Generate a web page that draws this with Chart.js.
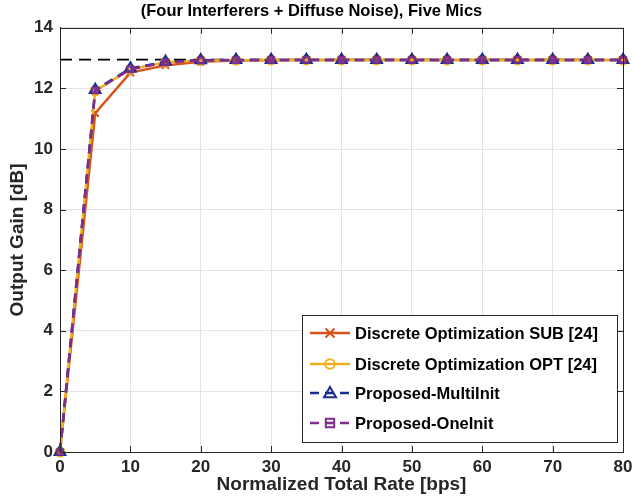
<!DOCTYPE html>
<html>
<head>
<meta charset="utf-8">
<script src="https://cdn.jsdelivr.net/npm/chart.js@4.4.1/dist/chart.umd.min.js"></script>
<style>
  html, body { margin: 0; padding: 0; background: #fff; }
  #wrap { width: 633px; height: 496px; }
</style>
</head>
<body>
<div id="wrap"><canvas id="gain" width="633" height="496"></canvas></div>
<script>
// normalized total rate [bps]
const rates = [0, 5, 10, 15, 20, 25, 30, 35, 40, 45, 50, 55, 60, 65, 70, 75, 80];

// output gain [dB]
const subGain   = [0, 11.18, 12.52, 12.76, 12.88, 12.92, 12.93, 12.94, 12.94, 12.94, 12.94, 12.94, 12.94, 12.94, 12.94, 12.94, 12.94];
const optGain   = [0, 11.92, 12.63, 12.86, 12.92, 12.93, 12.94, 12.94, 12.94, 12.94, 12.94, 12.94, 12.94, 12.94, 12.94, 12.94, 12.94];
const multiGain = [0, 11.95, 12.66, 12.88, 12.93, 12.94, 12.94, 12.94, 12.94, 12.94, 12.94, 12.94, 12.94, 12.94, 12.94, 12.94, 12.94];
const oneGain   = [0, 11.93, 12.63, 12.86, 12.92, 12.93, 12.94, 12.94, 12.94, 12.94, 12.94, 12.94, 12.94, 12.94, 12.94, 12.94, 12.94];
const upperBound = 12.95;

const xTicks = [0, 10, 20, 30, 40, 50, 60, 70, 80];
const yTicks = [0, 2, 4, 6, 8, 10, 12, 14];

const seriesNames = [
  'Discrete Optimization SUB [24]',
  'Discrete Optimization OPT [24]',
  'Proposed-MultiInit',
  'Proposed-OneInit'
];

const FONT = '"Liberation Sans", Arial, Helvetica, sans-serif';
const orange = '#D95319', yellow = '#EDB120', blue = '#1A2E8F', purple = '#7E2F8E';

const pts = (arr) => arr.map((v, i) => ({ x: rates[i], y: v }));

// draw a marker (used by the hand-made legend)
function marker(ctx, style, x, y, r, color) {
  ctx.save();
  ctx.strokeStyle = color;
  ctx.lineWidth = 2;
  ctx.beginPath();
  if (style === 'crossRot') {
    ctx.moveTo(x - r * 0.75, y - r * 0.75); ctx.lineTo(x + r * 0.75, y + r * 0.75);
    ctx.moveTo(x + r * 0.75, y - r * 0.75); ctx.lineTo(x - r * 0.75, y + r * 0.75);
  } else if (style === 'circle') {
    ctx.arc(x, y, r * 0.8, 0, Math.PI * 2);
  } else if (style === 'triangle') {
    ctx.moveTo(x, y - r); ctx.lineTo(x + r, y + r * 0.7); ctx.lineTo(x - r, y + r * 0.7); ctx.closePath();
  } else {
    ctx.rect(x - r * 0.7, y - r * 0.7, r * 1.4, r * 1.4);
  }
  ctx.stroke();
  ctx.restore();
}

const frameAndLegend = {
  id: 'frameAndLegend',
  beforeDatasetsDraw(chart) {
    // inward tick marks on all four sides, matlab style
    const ctx = chart.ctx;
    const a = chart.chartArea;
    const sx = chart.scales.x, sy = chart.scales.y;
    ctx.save();
    ctx.strokeStyle = '#262626';
    ctx.lineWidth = 1;
    ctx.beginPath();
    xTicks.forEach(v => {
      const px = Math.round(sx.getPixelForValue(v)) + 0.5;
      ctx.moveTo(px, a.bottom); ctx.lineTo(px, a.bottom - 6);
      ctx.moveTo(px, a.top); ctx.lineTo(px, a.top + 6);
    });
    yTicks.forEach(v => {
      const py = Math.round(sy.getPixelForValue(v)) + 0.5;
      ctx.moveTo(a.left, py); ctx.lineTo(a.left + 6, py);
      ctx.moveTo(a.right, py); ctx.lineTo(a.right - 6, py);
    });
    ctx.stroke();
    ctx.restore();
  },
  afterDraw(chart) {
    const ctx = chart.ctx;
    const a = chart.chartArea;
    ctx.save();
    // box around the axes
    ctx.strokeStyle = '#262626';
    ctx.lineWidth = 1;
    ctx.strokeRect(Math.round(a.left) + 0.5, Math.round(a.top) + 0.5, Math.round(a.right - a.left), Math.round(a.bottom - a.top));

    // legend
    const lx = 302, ly = 315, lw = 315, lh = 127;
    ctx.fillStyle = '#fff';
    ctx.fillRect(lx, ly, lw, lh);
    ctx.strokeStyle = '#262626';
    ctx.strokeRect(lx + 0.5, ly + 0.5, lw, lh);

    const rows = [333, 364, 393, 423];
    const styles = [
      { c: orange, p: 'crossRot', dash: [] },
      { c: yellow, p: 'circle', dash: [] },
      { c: blue, p: 'triangle', dash: [9, 6] },
      { c: purple, p: 'rect', dash: [9, 6] }
    ];
    ctx.font = 'bold 16.5px ' + FONT;
    ctx.textBaseline = 'middle';
    rows.forEach((ry, i) => {
      const s = styles[i];
      ctx.strokeStyle = s.c;
      ctx.lineWidth = 2.5;
      ctx.setLineDash(s.dash);
      ctx.beginPath();
      ctx.moveTo(310, ry); ctx.lineTo(350, ry);
      ctx.stroke();
      ctx.setLineDash([]);
      marker(ctx, s.p, 330, ry, 6, s.c);
      ctx.fillStyle = '#000';
      ctx.fillText(seriesNames[i], 355, ry + 1);
    });
    ctx.restore();
  }
};

new Chart(document.getElementById('gain'), {
  type: 'line',
  data: {
    datasets: [
      {
        label: 'bound',
        data: [{ x: rates[0], y: upperBound }, { x: rates[rates.length - 1], y: upperBound }],
        borderColor: '#000', borderWidth: 1.8, borderDash: [12, 7],
        pointRadius: 0, order: 5
      },
      {
        label: seriesNames[0], data: pts(subGain),
        borderColor: orange, backgroundColor: orange, borderWidth: 2.5,
        pointStyle: 'crossRot', pointRadius: 5, pointBorderWidth: 2,
        pointBorderColor: orange, order: 4
      },
      {
        label: seriesNames[1], data: pts(optGain),
        borderColor: yellow, backgroundColor: 'rgba(0,0,0,0)', borderWidth: 2.5,
        pointStyle: 'circle', pointRadius: 4.5, pointBorderWidth: 2,
        pointBorderColor: yellow, order: 3
      },
      {
        label: seriesNames[2], data: pts(multiGain),
        borderColor: blue, backgroundColor: 'rgba(0,0,0,0)', borderWidth: 2.5, borderDash: [9, 6],
        pointStyle: 'triangle', pointRadius: 6, pointBorderWidth: 2.2,
        pointBorderColor: blue, order: 2
      },
      {
        label: seriesNames[3], data: pts(oneGain),
        borderColor: purple, backgroundColor: 'rgba(0,0,0,0)', borderWidth: 2.5, borderDash: [9, 6],
        pointStyle: 'rect', pointRadius: 4, pointBorderWidth: 2,
        pointBorderColor: purple, order: 1
      }
    ]
  },
  options: {
    responsive: false,
    animation: false,
    clip: false,
    layout: { padding: { left: 0, right: 10, top: 0, bottom: 0 } },
    plugins: {
      legend: { display: false },
      tooltip: { enabled: false },
      title: {
        display: true,
        text: '(Four Interferers + Diffuse Noise), Five Mics',
        color: '#000',
        font: { family: FONT, size: 16.5, weight: 'bold' },
        padding: { top: 2, bottom: 6 }
      }
    },
    scales: {
      x: {
        type: 'linear', min: 0, max: 80,
        afterBuildTicks: (s) => { s.ticks = xTicks.map(v => ({ value: v })); },
        afterFit: (s) => { s.height = 44; s.paddingLeft = 0; s.paddingRight = 0; },
        grid: { color: '#e3e3e3', drawTicks: false },
        border: { color: '#262626', width: 1 },
        ticks: { color: '#262626', padding: 5, font: { family: FONT, size: 17, weight: 'bold' } },
        title: {
          display: true, text: 'Normalized Total Rate [bps]', color: '#262626',
          font: { family: FONT, size: 19, weight: 'bold' }, padding: { top: 0, bottom: 0 }
        }
      },
      y: {
        type: 'linear', min: 0, max: 14,
        afterBuildTicks: (s) => { s.ticks = yTicks.map(v => ({ value: v })); },
        afterFit: (s) => { s.width = 60; s.paddingTop = 0; s.paddingBottom = 0; },
        grid: { color: '#e3e3e3', drawTicks: false },
        border: { color: '#262626', width: 1 },
        ticks: { color: '#262626', padding: 7, font: { family: FONT, size: 17, weight: 'bold' } },
        title: {
          display: true, text: 'Output Gain [dB]', color: '#262626',
          font: { family: FONT, size: 19, weight: 'bold' }, padding: { top: 6, bottom: 4 }
        }
      }
    }
  },
  plugins: [frameAndLegend]
});
</script>
</body>
</html>
